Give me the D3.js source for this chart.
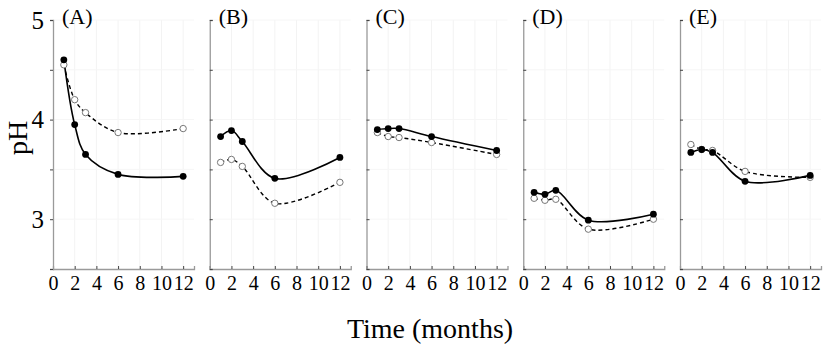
<!DOCTYPE html>
<html><head><meta charset="utf-8">
<script src="https://cdn.jsdelivr.net/npm/d3@7"></script>
<style>body{margin:0;background:#fff}svg{display:block}text{font-family:"Liberation Serif","Times New Roman",serif;fill:#000}</style>
</head><body>
<svg id="c" width="827" height="356"></svg>
<script>
const months = [1, 2, 3, 6, 12];
const panels = ["(A)", "(B)", "(C)", "(D)", "(E)"];
const solidA = [4.60, 3.95, 3.65, 3.45, 3.43];
const dashA  = [4.55, 4.20, 4.07, 3.87, 3.91];
const solidB = [3.83, 3.89, 3.78, 3.41, 3.62];
const dashB  = [3.57, 3.60, 3.53, 3.16, 3.37];
const solidC = [3.90, 3.91, 3.91, 3.83, 3.69];
const dashC  = [3.87, 3.83, 3.82, 3.77, 3.65];
const solidD = [3.27, 3.25, 3.29, 2.99, 3.05];
const dashD  = [3.21, 3.19, 3.20, 2.90, 3.00];
const solidE = [3.67, 3.70, 3.67, 3.38, 3.44];
const dashE  = [3.75, 3.70, 3.69, 3.48, 3.42];
const xTicks = [0, 2, 4, 6, 8, 10, 12];
const yTicks = [2.5, 3, 3.5, 4, 4.5, 5];
const yLabels = [3, 4, 5];

const solids = [solidA, solidB, solidC, solidD, solidE];
const dashes = [dashA, dashB, dashC, dashD, dashE];

const svg = d3.select("#c");
const y = d3.scaleLinear().domain([2.5, 5]).range([269, 20]);
const line = xs => d3.line().x((d, i) => xs(months[i])).y(d => y(d)).curve(d3.curveCatmullRom.alpha(0.5));

panels.forEach((p, k) => {
  const x0 = 53 + k * 156.75;
  const x = d3.scaleLinear().domain([0, 13]).range([x0, x0 + 141]);
  const g = svg.append("g");
  g.selectAll(".gv").data(xTicks.slice(1)).join("line")
    .attr("x1", d => x(d)).attr("x2", d => x(d)).attr("y1", y(5)).attr("y2", y(2.5))
    .attr("stroke", "#f3f3f3").attr("stroke-width", 1);
  g.selectAll(".gh").data(yTicks.slice(1)).join("line")
    .attr("x1", x(0)).attr("x2", x(13)).attr("y1", d => y(d)).attr("y2", d => y(d))
    .attr("stroke", "#f6f6f6").attr("stroke-width", 1);
  const xa = g.append("g").attr("transform", `translate(0,${y(2.5)})`)
    .call(d3.axisBottom(x).tickValues(xTicks).tickSize(-3).tickPadding(8).tickFormat(d3.format("d")));
  xa.select(".domain").attr("stroke", "#9a9a9a").attr("stroke-width", 1.3);
  xa.selectAll(".tick line").attr("stroke", "#444");
  xa.selectAll("text").attr("font-size", 20).attr("font-family", "Liberation Serif").attr("fill", "#000").attr("dy", "0.65em");
  const ya = g.append("g").attr("transform", `translate(${x0},0)`)
    .call(d3.axisLeft(y).tickValues(yTicks).tickSize(k === 0 ? 3 : -3).tickFormat(d => yLabels.includes(d) && k === 0 ? d3.format("d")(d) : "").tickPadding(6));
  ya.select(".domain").attr("stroke", "#9a9a9a").attr("stroke-width", 1.3);
  ya.selectAll(".tick line").attr("stroke", "#444");
  ya.selectAll("text").attr("font-size", 25).attr("font-family", "Liberation Serif").attr("fill", "#000");
  g.append("text").attr("x", x0 + 9).attr("y", 24).attr("font-size", 22).text(p);
  g.append("path").datum(dashes[k]).attr("d", line(x)).attr("fill", "none")
    .attr("stroke", "#000").attr("stroke-width", 1.4).attr("stroke-dasharray", "4,3");
  g.append("path").datum(solids[k]).attr("d", line(x)).attr("fill", "none")
    .attr("stroke", "#000").attr("stroke-width", 1.6);
  g.selectAll(".od").data(dashes[k]).join("circle")
    .attr("cx", (d, i) => x(months[i])).attr("cy", d => y(d)).attr("r", 3.2)
    .attr("fill", "#fff").attr("stroke", "#777").attr("stroke-width", 1);
  g.selectAll(".fd").data(solids[k]).join("circle")
    .attr("cx", (d, i) => x(months[i])).attr("cy", d => y(d)).attr("r", 3.4)
    .attr("fill", "#000");
});

svg.append("text").attr("transform", "translate(27,138) rotate(-90)").attr("text-anchor", "middle")
  .attr("font-size", 28).text("pH");
svg.append("text").attr("x", 430).attr("y", 338).attr("text-anchor", "middle")
  .attr("font-size", 28).text("Time (months)");
</script>
</body></html>
